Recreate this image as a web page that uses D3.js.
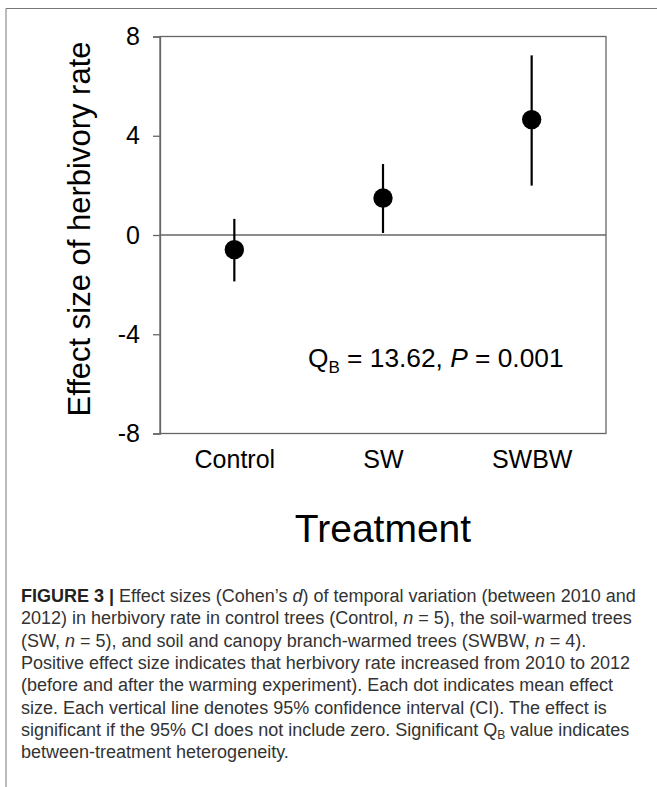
<!DOCTYPE html>
<html><head><meta charset="utf-8">
<script src="https://cdn.jsdelivr.net/npm/d3@7"></script>
<style>
html,body{margin:0;padding:0;background:#fff;}
svg{display:block;font-family:"Liberation Sans",Arial,Helvetica,sans-serif;}
</style></head>
<body>
<svg id="chart" width="657" height="787"></svg>
<script>
const categories = ["Control", "SW", "SWBW"];
const meanEffect = [-0.59, 1.49, 4.65];
const ciLower = [-1.87, 0.08, 1.99];
const ciUpper = [0.65, 2.86, 7.24];
const yTicks = [-8, -4, 0, 4, 8];
const yDomain = [-8, 8];
const annotationStat = {label: "Q", sub: "B", value: "13.62", p: "0.001"};
const captionLines = [
  [{t:"FIGURE 3 |", b:1}, {t:" Effect sizes (Cohen\u2019s "}, {t:"d", i:1}, {t:") of temporal variation (between 2010 and"}],
  [{t:"2012) in herbivory rate in control trees (Control, "}, {t:"n", i:1}, {t:" = 5), the soil-warmed trees"}],
  [{t:"(SW, "}, {t:"n", i:1}, {t:" = 5), and soil and canopy branch-warmed trees (SWBW, "}, {t:"n", i:1}, {t:" = 4)."}],
  [{t:"Positive effect size indicates that herbivory rate increased from 2010 to 2012"}],
  [{t:"(before and after the warming experiment). Each dot indicates mean effect"}],
  [{t:"size. Each vertical line denotes 95% confidence interval (CI). The effect is"}],
  [{t:"significant if the 95% CI does not include zero. Significant Q"}, {t:"B", sub:1}, {t:" value indicates"}],
  [{t:"between-treatment heterogeneity."}]
];

const svg = d3.select("#chart");
// outer frame (top and left edges)
svg.append("path").attr("d","M6,787V8.5H657").attr("fill","none").attr("stroke","#777").attr("stroke-width",1);

const m = {left:160, right:606, top:36.5, bottom:433.5};
const x = d3.scalePoint().domain(categories).range([m.left, m.right]).padding(0.5);
const y = d3.scaleLinear().domain(yDomain).range([m.bottom, m.top]);
const axisColor = "#666";

// frame box
svg.append("rect").attr("x",m.left).attr("y",m.top).attr("width",m.right-m.left).attr("height",m.bottom-m.top)
  .attr("fill","none").attr("stroke",axisColor).attr("stroke-width",1.3);
// zero line
svg.append("line").attr("x1",m.left).attr("x2",m.right).attr("y1",y(0)).attr("y2",y(0))
  .attr("stroke",axisColor).attr("stroke-width",1.3);

// y axis
const yAxis = d3.axisLeft(y).tickValues(yTicks).tickSize(7).tickPadding(13).tickFormat(d => String(d));
const ga = svg.append("g").attr("transform",`translate(${m.left},0)`).call(yAxis);
ga.select(".domain").attr("stroke",axisColor).attr("stroke-width",1.3);
ga.selectAll(".tick line").attr("stroke",axisColor).attr("stroke-width",1.3);
ga.selectAll(".tick text").attr("font-size",25).attr("fill","#000").attr("font-family","Liberation Sans, Arial, sans-serif");

// x axis labels
const xAxis = d3.axisBottom(x).tickSize(0).tickPadding(17);
const gx = svg.append("g").attr("transform",`translate(0,${m.bottom})`).call(xAxis);
gx.select(".domain").remove();
gx.selectAll(".tick text").attr("font-size",25).attr("fill","#000").attr("font-family","Liberation Sans, Arial, sans-serif");

// error bars
svg.selectAll(".err").data(categories).join("line").attr("class","err")
  .attr("x1",d=>x(d)).attr("x2",d=>x(d))
  .attr("y1",(d,i)=>y(ciLower[i])).attr("y2",(d,i)=>y(ciUpper[i]))
  .attr("stroke","#000").attr("stroke-width",2.2);
// points
svg.selectAll(".pt").data(categories).join("circle").attr("class","pt")
  .attr("cx",d=>x(d)).attr("cy",(d,i)=>y(meanEffect[i])).attr("r",9.7).attr("fill","#000");

// annotation
const ann = svg.append("text").attr("x",308).attr("y",y(-5.3)).attr("font-size",26.3).attr("fill","#000");
ann.append("tspan").text(annotationStat.label);
ann.append("tspan").attr("font-size",17).attr("dy",6).text(annotationStat.sub);
ann.append("tspan").attr("dy",-6).text(" = " + annotationStat.value + ", ");
ann.append("tspan").attr("font-style","italic").text("P");
ann.append("tspan").text(" = " + annotationStat.p);

// axis titles
svg.append("text").attr("x",(m.left+m.right)/2).attr("y",542).attr("text-anchor","middle")
  .attr("font-size",39).attr("fill","#000").text("Treatment");
svg.append("text").attr("transform",`translate(90,229) rotate(-90)`).attr("text-anchor","middle")
  .attr("font-size",31).attr("fill","#000").text("Effect size of herbivory rate");

// caption
const cap = svg.append("g").attr("fill","#333").attr("font-size",18);
captionLines.forEach((line,li)=>{
  const t = cap.append("text").attr("x",21).attr("y",602 + li*22.3);
  let prevSub = false;
  line.forEach(seg=>{
    const s = t.append("tspan").text(seg.t);
    if(seg.b) s.attr("font-weight","bold").attr("fill","#222");
    if(seg.i) s.attr("font-style","italic");
    if(seg.sub) { s.attr("font-size",12).attr("dy",3); }
    else if(prevSub) { s.attr("dy",-3); }
    prevSub = !!seg.sub;
  });
});
</script>
</body></html>
